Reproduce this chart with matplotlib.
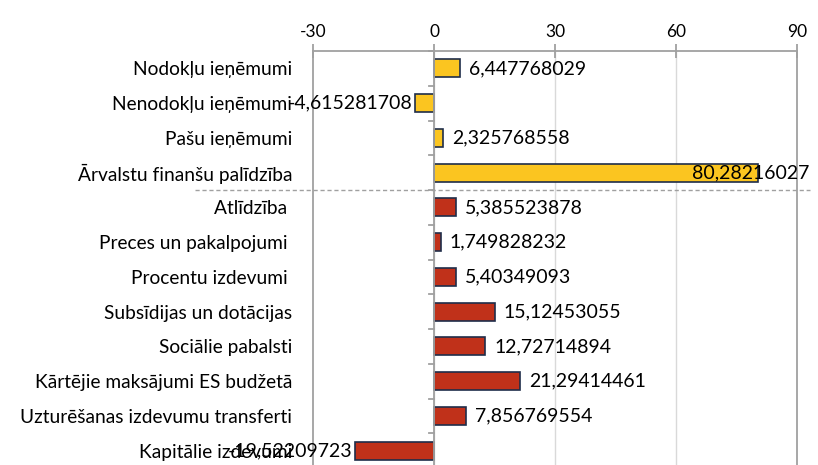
import matplotlib.pyplot as plt
import numpy as np

plt.rcParams['font.family'] = ['Lato', 'DejaVu Sans']

# categories, top to bottom
categories = ['Nodokļu ieņēmumi', 'Nenodokļu ieņēmumi', 'Pašu ieņēmumi',
              'Ārvalstu finanšu palīdzība', 'Atlīdzība ', 'Preces un pakalpojumi ',
              'Procentu izdevumi ', 'Subsīdijas un dotācijas', 'Sociālie pabalsti',
              'Kārtējie maksājumi ES budžetā', 'Uzturēšanas izdevumu transferti',
              'Kapitālie izdevumi']
values = [6.447768029, -4.615281708, 2.325768558, 80.28216027, 5.385523878,
          1.749828232, 5.40349093, 15.12453055, 12.72714894, 21.29414461,
          7.856769554, -19.52209723]
n_income = 4
xticks = [-30, 0, 30, 60, 90]

yellow = '#FBC520'
red = '#C0311A'
edge = '#1F2D4A'
gray = '#A0A0A0'

fig = plt.figure(figsize=(8.18, 4.65), dpi=100)
ax = fig.add_axes([313/818, 1 - 468/465, 484/818, (468 - 51)/465])

y = np.arange(len(categories))
colors = [yellow if i < n_income else red for i in range(len(categories))]
ax.barh(y, values, height=0.52, color=colors, edgecolor=edge, linewidth=1.2, zorder=3)

ax.set_xlim(-30, 90)
ax.set_ylim(len(categories) - 0.5, -0.5)

# gridlines
for xv in xticks[1:-1]:
    ax.axvline(xv, color='#D9D9D9', lw=1, zorder=0)
ax.axvline(0, color=gray, lw=1.3, zorder=4)
for b in np.arange(len(categories) + 1) - 0.5:
    ax.plot([-1.3, 0], [b, b], color=gray, lw=1.3, zorder=4, clip_on=False)

ax.xaxis.tick_top()
ax.set_xticks(xticks)
ax.set_xticklabels([str(v) for v in xticks], fontsize=12.5)
ax.tick_params(axis='x', direction='inout', length=10, width=1.3, color=gray, pad=3)
ax.set_yticks(y)
ax.set_yticklabels(categories, fontsize=13.8)
ax.tick_params(axis='y', length=0, pad=15)

for s in ['top', 'left', 'right']:
    ax.spines[s].set_color(gray)
    ax.spines[s].set_linewidth(1.3)
ax.spines['bottom'].set_visible(False)

# value labels
for i, v in enumerate(values):
    txt = f'{v:.10g}'.replace('.', ',')
    if v > 60:
        ax.text(v - 16.2, i, txt, va='center', ha='left', fontsize=14, zorder=5, clip_on=False)
    elif v >= 0:
        ax.text(v + 2.2, i, txt, va='center', ha='left', fontsize=14, zorder=5)
    else:
        ax.text(v - 0.6, i, txt, va='center', ha='right', fontsize=14, zorder=5, clip_on=False)

# dashed separator between income and expenditure
ax.plot([-0.244, 1.027], [n_income - 0.5] * 2, color=gray, lw=1, ls=(0, (3, 2)),
        clip_on=False, zorder=2)
ax.lines[-1].set_transform(ax.get_yaxis_transform())

fig.savefig('out.png', dpi=100)
